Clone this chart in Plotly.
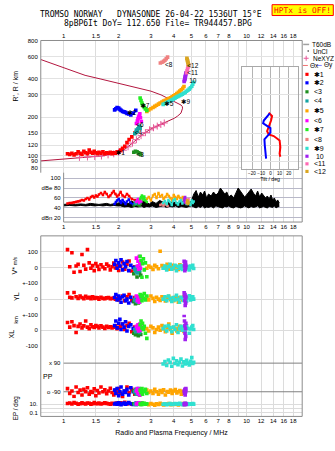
import math
import plotly.graph_objects as go

W, H = 335, 451

# ---------------- data ----------------
freq_ticks = [1, 1.5, 2, 3, 4, 5, 6, 7, 8, 9, 10, 12, 14, 16, 18]
freq_top_text = ["1", "1.5", "2", "3", "4", "5", "6", "7", "8", "", "10", "12", "14", "16", "18"]
freq_mid_text = ["1", "1.5", "2", "3", "4", "5", "6", "7", "8", "9", "10", "12", "14", "16", "18"]
height_ticks = [80, 90, 100, 120, 150, 200, 300, 400, 600, 800]
height_text = ["80", "90", "100", "120", "150", "200", "300", "400", "600", "800"]
db_ticks = [20, 40, 60, 80, 100]
db_text = ["dBn 20", "40", "60", "dBe 80", "100"]
tilt_ticks = [-20, -10, 0, 10, 20]

# electron density profile (plasma frequency vs true height)
prof_f = [0.75, 1.0, 1.22, 1.61, 1.98, 2.2, 2.44, 2.7, 3.01, 3.3, 3.55, 3.86, 4.03, 4.2, 4.38, 4.47,
          4.45, 4.38, 4.2, 4.03, 3.7, 3.41, 3.0, 2.5, 2.0, 1.6, 1.31, 1.0, 0.75]
prof_h = [90.6, 94, 96.5, 99, 105, 114, 129, 146, 162, 172, 180, 190, 196, 204, 215, 235,
          243, 249, 257, 265, 282, 299, 320, 342, 370, 398, 426, 490, 567]
nexyz_f = [1.22, 1.35, 1.48, 1.61, 1.75, 1.88, 2.0, 2.12, 2.25, 2.38, 2.5, 2.65, 2.8, 2.95, 3.1, 3.25, 3.4, 3.55]
nexyz_h = [96.5, 97.3, 98, 99, 101, 103, 106, 110, 117, 125, 133, 143, 151, 159, 165, 170, 175, 180]

# echo 1 (red)
f1 = [1.05, 1.08, 1.11, 1.14, 1.17, 1.20, 1.23, 1.26, 1.29, 1.32, 1.35, 1.38, 1.41, 1.44, 1.47, 1.50, 1.53, 1.56,
      1.60, 1.64, 1.68, 1.72, 1.76, 1.80, 1.84, 1.88, 1.92, 1.96, 2.00, 2.05, 2.10, 2.16, 2.22, 2.28, 2.36, 2.45]
h1 = [103, 102, 104, 101, 103, 107, 104, 102, 108, 105, 103, 110, 106, 104, 108, 105, 103, 106,
      104, 107, 103, 105, 104, 106, 103, 105, 104, 107, 106, 110, 114, 118, 126, 133, 140, 150]
db1 = [49, 50, 50, 51, 52, 53, 54, 56, 55, 58, 60, 57, 62, 64, 61, 65, 63, 67,
       70, 66, 72, 68, 62, 65, 70, 74, 68, 63, 66, 72, 65, 62, 68, 64, 58, 56]
v1 = [114, 5, 94, -30, 10, 20, -25, 83, 15, -10, 114, 30, -5, 12, -20, 25, 8, -12,
      18, 3, -8, 22, 10, -15, 5, 28, -3, 12, -18, 8, 35, -10, 20, 42, -22, 5]
yl1 = [40, 12, 8, 42, 15, 5, 20, 10, 3, 18, 8, 12, 2, 15, 5, 10, 8, 0,
       12, 5, 3, 8, 10, 2, 5, 6, 0, 4, -5, 8, 20, -10, 15, 30, -8, 10]
xl1 = [50, 20, 55, 30, -15, 25, 40, 15, 28, 60, 20, 10, 35, 22, 18, 30, 25, 15,
       28, 20, 12, 25, 18, 22, 15, 20, 28, 10, 18, 25, 40, 5, 30, 45, -10, 20]
pp1 = [-70, -100, -85, -120, -60, -95, -80, -110, -75, -90, -65, -105, -88, -95, -72, -115, -82, -98,
       -60, -90, -78, -102, -85, -68, -95, -110, -80, -92, -70, -100, -125, -85, -60, -95, -75, -105]
ep1 = [15, 20, 12, 25, 18, 10, 14, 22, 16, 12, 20, 18, 11, 14, 25, 16, 13, 19,
       12, 15, 22, 17, 14, 11, 18, 13, 16, 20, 12, 24, 15, 30, 12, 18, 10, 14]

# echo 2 (blue)
f2 = [1.90, 1.93, 1.96, 2.00, 2.03, 2.06, 2.10, 2.14, 2.18, 2.22, 2.27, 2.33, 2.40, 2.48]
h2 = [228, 232, 238, 236, 230, 226, 222, 220, 218, 214, 212, 208, 215, 226]
db2 = [48, 52, 55, 58, 54, 50, 56, 52, 48, 53, 57, 50, 47, 52]
v2 = [20, 45, -5, 30, 10, 50, -15, 25, 5, 38, -20, 15, 0, -8]
yl2 = [10, 30, -5, 20, 5, -20, 15, 25, -10, 0, -25, 12, -15, 5]
xl2 = [30, 60, 15, 45, 70, 5, 40, 20, 55, -5, 25, 35, 10, 15]
pp2 = [-80, -100, -70, -115, -90, -60, -105, -85, -95, -75, -110, -65, -90, -100]
ep2 = [12, 18, 10, 22, 15, 8, 14, 20, 11, 16, 25, 13, 9, 17]

# echo 3 (dark green)
f3 = [2.42, 2.47, 2.52, 2.56, 2.60, 2.64]
h3 = [106, 108, 107, 105, 104, 102]
db3 = [45, 47, 50, 46, 44, 48]
v3 = [-40, -20, -60, -10, -30, -50]
yl3 = [-15, -30, -10, -25, -20, -5]
xl3 = [-20, -30, -25, -35, -15, -28]
pp3 = [-85, -100, -75, -95, -110, -80]
ep3 = [14, 10, 18, 12, 20, 9]

# echo 4 (teal)
f4 = [2.45, 2.48, 2.50, 2.53, 2.55, 2.58, 2.60, 2.62]
h4 = [148, 152, 158, 155, 162, 166, 170, 164]
db4 = [50, 48, 53, 56, 52, 49, 55, 51]
v4 = [-10, -25, 5, -35, -15, 10, -20, -5]
yl4 = [-5, 10, -15, 0, -20, 5, -10, 8]
xl4 = [5, -10, 15, -5, 0, 20, -15, 10]
pp4 = [-90, -75, -105, -80, -95, -70, -100, -85]
ep4 = [10, 14, 8, 18, 12, 16, 11, 20]

# echo 5 (orange)
f5 = [2.85, 2.92, 3.0, 3.08, 3.15, 3.22, 3.3, 3.37, 3.45, 3.52, 3.6, 3.68, 3.76, 3.84, 3.92, 4.0,
      4.08, 4.16, 4.24, 4.32, 4.40, 4.48, 4.55]
h5 = [222, 228, 233, 238, 243, 248, 253, 258, 263, 267, 271, 276, 280, 284, 289, 294,
      300, 306, 313, 320, 328, 337, 348]
db5 = [58, 62, 55, 65, 68, 60, 70, 63, 66, 58, 62, 68, 64, 60, 55, 66, 62, 58, 64, 60, 56, 62, 58]
v5 = [-5, 10, 2, -12, 15, 5, -8, 104, 12, -3, 8, 20, -10, 5, 15, -6, 10, 3, -12, 18, 0, 8, -4]
yl5 = [10, -5, 20, 5, -15, 12, 0, -8, 15, 3, -12, 8, 18, -3, 6, -10, 12, 2, -20, 10, 5, -6, 15]
xl5 = [10, -5, 25, 15, -15, 5, 20, 0, 30, 10, -10, 15, 40, 5, -20, 18, 8, -5, 12, 25, 0, 10, -8]
pp5 = [-80, -95, -85, -100, -75, -90, -105, -82, -95, -78, -110, -88, -92, -80, -100, -85, -76, -98,
       -90, -83, -105, -88, -95]
ep5 = [12, 8, 15, 10, 6, 14, 9, 18, 11, 7, 13, 10, 16, 8, 12, 9, 14, 11, 7, 13, 10, 15, 9]

# echo 6 (magenta)
f6 = [2.50, 2.53, 2.55, 2.57, 2.59, 2.61, 2.63, 2.66]
h6 = [178, 186, 194, 200, 206, 212, 198, 185]
db6 = [52, 56, 58, 54, 50, 55, 57, 53]
v6 = [60, 10, 40, -10, 70, 20, -5, 30]
yl6 = [20, -10, 10, 5, -20, 15, 0, -5]
xl6 = [25, 10, 35, -5, 15, 40, 0, 20]
pp6 = [-85, -70, -100, -90, -75, -110, -95, -80]
ep6 = [12, 16, 20, 14, 10, 18, 13, 22]

# echo 7 (green)
f7 = [2.62, 2.65, 2.68, 2.70, 2.73, 2.76, 2.80, 2.85]
h7 = [283, 270, 258, 250, 245, 238, 232, 226]
db7 = [58, 62, 65, 60, 56, 63, 55, 52]
v7 = [72, 45, -62, 25, 55, -15, 30, -59]
yl7 = [30, 15, -10, 25, 5, 35, -5, 20]
xl7 = [35, 60, 15, 45, 5, 25, -20, -53]
pp7 = [-80, -95, -70, -105, -85, -90, -75, -100]
ep7 = [11, 15, 9, 20, 13, 17, 10, 14]

# echo 8 (salmon)
f8 = [3.38, 3.45, 3.52, 3.58, 3.64, 3.70]
h8 = [532, 540, 548, 560, 575, 592]
db8 = [46, 48, 45, 50, 47, 44]

# echo 9 (turquoise)
f9 = [3.50, 3.58, 3.66, 3.74, 3.82, 3.90, 3.98, 4.06, 4.14, 4.22, 4.30, 4.38, 4.46, 4.54, 4.62, 4.70,
      4.78, 4.86, 4.94, 5.02, 5.08, 5.14]
h9 = [252, 256, 260, 264, 268, 272, 277, 282, 287, 291, 295, 299, 303, 308, 313, 319,
      325, 332, 340, 350, 362, 376]
db9 = [50, 54, 48, 56, 52, 46, 55, 58, 50, 47, 53, 56, 49, 52, 57, 48, 54, 51, 46, 55, 50, 53]
v9 = [-5, 10, -15, 5, 20, -10, 0, 15, -20, 8, -5, 12, -12, 3, 18, -8, 6, -15, 10, 0, 14, -6]
yl9 = [0, 15, -10, 20, 5, -15, 10, -5, 25, 0, -20, 12, 5, -8, 18, -12, 8, 22, -5, 10, 15, 0]
xl9 = [10, 25, -5, 30, 15, -10, 20, 5, 35, -15, 10, 25, 0, 18, -8, 28, 12, -20, 8, 20, 30, 5]
pp9 = [85, 100, 75, 110, 95, 70, 120, 88, 105, 80, 95, 115, 72, 98, 85, 108, 90, 78, 102, 125, 88, 95]
ep9 = [10, 14, 8, 12, 16, 9, 11, 15, 13, 10, 18, 12, 8, 14, 11, 16, 9, 13, 12, 10, 15, 11]

# echo 10 (purple)
f10 = [4.56, 4.58, 4.60, 4.61, 4.62, 4.64, 4.65, 4.66]
h10 = [381, 390, 398, 405, 414, 422, 432, 443]
db10 = [55, 60, 52, 58, 62, 50, 57, 54]
v10 = [40, 10, -20, 25, -10, 35, 0, 15]
yl10 = [40, 20, -10, 30, -40, 5, -25, 15]
xl10 = [95, 60, 30, -20, -60, 10, -40, 45]
pp10 = [-85, -100, -75, -95, -110, -80, -90, -70]
ep10 = [12, 8, 15, 10, 18, 9, 14, 11]

# echo 11 (pink)
f11 = [4.70, 4.73, 4.76, 4.79, 4.82]
h11 = [446, 462, 478, 496, 514]
db11 = [52, 56, 50, 54, 58]

# echo 12 (goldenrod)
f12 = [4.82, 4.80, 4.78, 4.76, 4.74, 4.72]
h12 = [514, 527, 540, 553, 566, 580]
db12 = [50, 54, 48, 52, 56, 50]

echo_names = ["✱1", "✱2", "<3", "<4", "✱5", "<6", "✱7", "<8", "✱9", " 10", "<11", "<12"]
echo_colors = ["#ff0000", "#0000ff", "#1f8f1f", "#14a3a3", "#ffa500", "#ff00ff", "#22ee22",
               "#f08080", "#30e0d0", "#a020f0", "#ff69b4", "#daa520"]
label_text = ["✱1", "✱2", "<3", "<4", "✱5", "<6", "✱7", "<8", "✱9", "10", "<11", "<12"]
label_f = [1.93, 2.23, 2.50, 2.45, 3.55, 2.49, 2.63, 3.58, 4.38, 4.86, 4.74, 4.74]
label_h = [104, 215, 101, 148, 253, 172, 242, 509, 261, 379, 440, 503]

# noise level (dBn) band
noise_f = [1.00, 1.08, 1.16, 1.24, 1.32, 1.40, 1.48, 1.56, 1.64, 1.72, 1.80, 1.88, 1.96,
           2.05, 2.15, 2.25, 2.35, 2.45, 2.55, 2.65, 2.75, 2.85, 2.95, 3.05, 3.2, 3.35, 3.5, 3.65, 3.8,
           3.95, 4.1, 4.25, 4.4, 4.55, 4.7, 4.85,
           5.0, 5.15, 5.3, 5.45, 5.6, 5.75, 5.9, 6.05, 6.2, 6.4, 6.6, 6.8, 7.0, 7.2, 7.4, 7.6, 7.8, 8.0,
           8.25, 8.5, 8.75, 9.0, 9.25, 9.5, 9.75, 10.0, 10.3, 10.6, 10.9, 11.2, 11.5, 11.8, 12.1, 12.4,
           12.7, 13.0, 13.3, 13.6, 13.9, 14.2, 14.5, 14.8, 15.1]
noise_lo = [44, 45, 44, 45, 44, 45, 44, 45, 44, 45, 44, 45, 44,
            44, 42, 43, 41, 43, 42, 44, 41, 43, 42, 44, 41, 42, 44, 41, 43,
            42, 44, 41, 43, 42, 41, 43,
            44, 42, 40, 43, 41, 44, 40, 42, 41, 43, 40, 44, 42, 41, 40, 43, 42, 44,
            41, 40, 43, 42, 40, 41, 44, 42, 40, 43, 41, 42, 44, 40, 42, 43,
            41, 40, 43, 42, 41, 44, 40, 42, 43]
noise_hi = [47, 48, 47, 48, 47, 49, 48, 47, 48, 49, 47, 48, 50,
            50, 52, 48, 54, 50, 47, 52, 55, 50, 48, 53, 49, 55, 51, 48, 54,
            50, 52, 49, 55, 50, 53, 48,
            55, 68, 75, 62, 72, 66, 74, 60, 68, 64, 72, 66, 70, 80, 74, 68, 72, 62,
            66, 60, 70, 80, 74, 68, 62, 66, 72, 78, 70, 64, 74, 62, 70, 66,
            60, 64, 58, 66, 56, 60, 52, 56, 50]

# tilt (Theta x red, Theta y blue)
tiltx_h = [217, 204, 188, 171, 155, 146, 142, 136, 131, 116, 103, 97.6]
tiltx = [-1.8, 1.8, 0.7, -1.8, -3.6, -1.8, 3.6, 7.2, 10, 10.8, 10, 10.8]
tilty_h = [214, 201, 188, 179, 171, 164, 151, 142, 134, 120, 106, 94.5]
tilty = [-0.7, -4.3, -7.2, -7.9, -3.6, 0, 0, -3.6, -6.5, -6.1, -5.4, -4.7]

# ---------------- layout geometry (pixels -> paper) ----------------
def PX(p):
    return p / W


def PY(p):
    return 1 - p / H


F1_PX, DEC_PX = 62.0, 184.0
LF0 = (39 - F1_PX) / DEC_PX
LF1 = (302 - F1_PX) / DEC_PX
F_RIGHT = 10 ** LF1
HT_TOP_PX, HT_DEC_PX = 38.0, 129.0
LH_TOP = math.log10(800)


def lh_at(py):
    return LH_TOP - (py - HT_TOP_PX) / HT_DEC_PX


TICKF = dict(family="Liberation Sans", size=6, color="black")
GRID = "#dcdcdc"

echoes = [
    (f1, h1, db1, v1, yl1, xl1, pp1, ep1),
    (f2, h2, db2, v2, yl2, xl2, pp2, ep2),
    (f3, h3, db3, v3, yl3, xl3, pp3, ep3),
    (f4, h4, db4, v4, yl4, xl4, pp4, ep4),
    (f5, h5, db5, v5, yl5, xl5, pp5, ep5),
    (f6, h6, db6, v6, yl6, xl6, pp6, ep6),
    (f7, h7, db7, v7, yl7, xl7, pp7, ep7),
    (f8, h8, db8, None, None, None, None, None),
    (f9, h9, db9, v9, yl9, xl9, pp9, ep9),
    (f10, h10, db10, v10, yl10, xl10, pp10, ep10),
    (f11, h11, db11, None, None, None, None, None),
    (f12, h12, db12, None, None, None, None, None),
]

fig = go.Figure()

# reference lines of the PP track
for val in (90, -90):
    fig.add_trace(go.Scatter(x=[1, F_RIGHT], y=[val, val], mode="lines", xaxis="x3", yaxis="y4",
                             line=dict(color="#808080", width=1)))

# noise band in dB panel
fig.add_trace(go.Scatter(x=noise_f, y=noise_lo, mode="lines", xaxis="x2", yaxis="y2",
                         line=dict(color="black", width=1)))
fig.add_trace(go.Scatter(x=noise_f, y=noise_hi, mode="lines", xaxis="x2", yaxis="y2",
                         line=dict(color="black", width=1), fill="tonexty", fillcolor="black"))

# profile
fig.add_trace(go.Scatter(x=prof_f, y=prof_h, mode="lines", xaxis="x", yaxis="y",
                         line=dict(color="#b3163f", width=1)))
fig.add_trace(go.Scatter(x=nexyz_f, y=nexyz_h, mode="markers", xaxis="x", yaxis="y",
                         marker=dict(symbol="cross-thin-open", size=5, color="#e8589a",
                                     line=dict(color="#e8589a", width=1))))

MS = 3.6
for (fe, he, dbe, ve, yle, xle, ppe, epe), col in zip(echoes, echo_colors):
    mk = dict(symbol="square", size=MS, color=col, line=dict(width=0))
    fig.add_trace(go.Scatter(x=fe, y=he, mode="markers", xaxis="x", yaxis="y", marker=mk))
    fig.add_trace(go.Scatter(x=fe, y=dbe, mode="lines+markers", xaxis="x2", yaxis="y2",
                             marker=dict(symbol="square", size=2.5, color=col), line=dict(color=col, width=1.5)))
    if ve is not None:
        for vals, ya in ((ve, "y7"), (yle, "y6"), (xle, "y5"), (ppe, "y4"), (epe, "y3")):
            fig.add_trace(go.Scatter(x=fe, y=vals, mode="markers", xaxis="x3", yaxis=ya, marker=mk))

fig.add_trace(go.Scatter(x=label_f, y=label_h, text=label_text, mode="text", xaxis="x", yaxis="y",
                         textposition="middle right",
                         textfont=dict(family="Liberation Sans, DejaVu Sans", size=6.5, color="black")))

# tilt inset
fig.add_trace(go.Scatter(x=tiltx, y=tiltx_h, mode="lines", xaxis="x4", yaxis="y8",
                         line=dict(color="#ff0000", width=2)))
fig.add_trace(go.Scatter(x=tilty, y=tilty_h, mode="lines", xaxis="x4", yaxis="y8",
                         line=dict(color="#0000ff", width=2)))

fig.update_traces(showlegend=False, hoverinfo="skip")

# ---- axes ----
xbase = dict(type="log", range=[LF0, LF1], tickvals=freq_ticks, showgrid=True, gridcolor=GRID,
             gridwidth=1, zeroline=False, ticks="", tickfont=TICKF, showline=False, fixedrange=True,
             tickangle=0)

V_S = 0.16  # px per m/s
v_rng = [-100 - 0.3 / V_S, (268.3 - 236) / V_S]
PP_S = 29 / 180.0
pp_rng = [-90 - (400.5 - 394) / PP_S, 90 + (365 - 347.3) / PP_S]
EP_S = 4.15
ep_rng = [-1 - (419 - 415) / EP_S, 1 + (406.7 - 400.5) / EP_S]

ybase = dict(zeroline=False, ticks="", tickfont=TICKF, showline=False, fixedrange=True,
             gridcolor=GRID, ticklabelstandoff=2)

fig.update_layout(
    width=W, height=H, margin=dict(l=0, r=0, t=0, b=0),
    paper_bgcolor="white", plot_bgcolor="white",
    font=dict(family="Liberation Sans", size=7, color="black"),
    xaxis=dict(xbase, domain=[PX(39), PX(302)], anchor="y", side="top", ticktext=freq_top_text),
    yaxis=dict(ybase, domain=[PY(172), PY(38)], anchor="x", type="log",
               range=[lh_at(172), LH_TOP], tickvals=height_ticks, ticktext=height_text,
               showgrid=True, gridcolor="#e2e2e2"),
    xaxis2=dict(xbase, domain=[PX(62), PX(302)], anchor="y2", range=[0, LF1], ticktext=freq_mid_text),
    yaxis2=dict(ybase, domain=[PY(222), PY(172)], anchor="x2",
                range=[20 - (222 - 217.7) / 0.5025, 100 + (177.5 - 172) / 0.5025],
                tickvals=db_ticks, ticktext=db_text, showgrid=True, gridcolor="#b8b8c8"),
    xaxis3=dict(xbase, domain=[PX(39), PX(302)], anchor="y3", ticktext=freq_top_text,
                title=dict(text="Radio and Plasma Frequency / MHz", standoff=6,
                           font=dict(family="Liberation Sans", size=7))),
    yaxis3=dict(ybase, domain=[PY(419), PY(400.5)], anchor="x3", type="log", range=ep_rng,
                tickvals=[0.1, 1, 10], ticktext=["0.1", "", "10."], showgrid=True),
    yaxis4=dict(ybase, domain=[PY(400.5), PY(347.3)], anchor="x3", range=pp_rng,
                showgrid=False, showticklabels=False),
    yaxis5=dict(ybase, domain=[PY(347.3), PY(316)], anchor="x3", range=[-100.6, 100],
                tickvals=[-100, 0], ticktext=["-100", "0"], showgrid=True),
    yaxis6=dict(ybase, domain=[PY(316), PY(284.3)], anchor="x3", range=[-100.6, 100],
                tickvals=[-100, 0], ticktext=["+-100", "0"], showgrid=True),
    yaxis7=dict(ybase, domain=[PY(284.3), PY(236)], anchor="x3", range=v_rng,
                tickvals=[-100, 0, 100], ticktext=["+-100", "0", "100"], showgrid=True),
    xaxis4=dict(domain=[PX(241.7), PX(297.7)], anchor="y8", range=[-30.6, 29.9], tickvals=tilt_ticks,
                showgrid=True, gridcolor="#b4b4b4", zeroline=False, ticks="", fixedrange=True,
                tickangle=0, ticklabelstandoff=0,
                tickfont=dict(family="Liberation Sans", size=4.6, color="black"),
                showline=True, mirror=True, linecolor="#a8a8a8", linewidth=1,
                title=dict(text="Tilt / deg", standoff=1, font=dict(family="Liberation Sans", size=5.2))),
    yaxis8=dict(domain=[PY(168), PY(65)], anchor="x4", type="log", range=[lh_at(168), lh_at(65)],
                tickvals=height_ticks, showticklabels=False, showgrid=True, gridcolor="#e2e2e2",
                zeroline=False, ticks="", fixedrange=True, showline=True, mirror=True,
                linecolor="#a8a8a8", linewidth=1),
)

FRAME = "#8c8c8c"
shapes = []


def hline(x0, x1, y, color=FRAME, w=1):
    shapes.append(dict(type="line", xref="paper", yref="paper", x0=PX(x0), x1=PX(x1), y0=PY(y), y1=PY(y),
                       line=dict(color=color, width=w), layer="above"))


def vline(x, y0, y1, color=FRAME, w=1):
    shapes.append(dict(type="line", xref="paper", yref="paper", x0=PX(x), x1=PX(x), y0=PY(y0), y1=PY(y1),
                       line=dict(color=color, width=w), layer="above"))


hline(39, 302, 38)
vline(39, 38, 172)
vline(302, 38, 222)
vline(62, 172, 222)
hline(62, 302, 222)
shapes.append(dict(type="rect", xref="paper", yref="paper", x0=PX(39), x1=PX(302), y0=PY(419), y1=PY(236),
                   line=dict(color=FRAME, width=1), layer="above"))
# HPTx box
shapes.append(dict(type="rect", xref="paper", yref="paper", x0=PX(271.7), x1=PX(333.3), y0=PY(12.7), y1=PY(1.7),
                   fillcolor="#ffff00", line=dict(color="#ff0000", width=1), layer="above"))

# legend symbols
hline(303, 309, 42, color="#a0a0a0", w=1.5)
shapes.append(dict(type="circle", xref="paper", yref="paper", x0=PX(307.3), x1=PX(308.7), y0=PY(49.4),
                   y1=PY(48.0), fillcolor="black", line=dict(width=0)))
hline(303.5, 308.5, 56, color="#e8589a")
vline(306, 53.5, 58.5, color="#e8589a")
hline(302.7, 307.7, 63.3, color="#f07070")
hline(316.7, 321.7, 63.3, color="#8080ff")
leg_y = [72.3, 80.9, 90, 99.3, 109.3, 119.3, 128.3, 138.3, 147.3, 155.3, 163, 170.7]
for yy, col in zip(leg_y, echo_colors):
    shapes.append(dict(type="rect", xref="paper", yref="paper", x0=PX(305.2), x1=PX(308.4), y0=PY(yy + 1.6),
                       y1=PY(yy - 1.6), fillcolor=col, line=dict(width=0)))

ann = []


def text(x, y, s, size=7, anchor="center", angle=0, color="black", family="Liberation Sans, DejaVu Sans"):
    ann.append(dict(x=PX(x), y=PY(y), xref="paper", yref="paper", text=s, showarrow=False,
                    xanchor=anchor, yanchor="middle", textangle=angle,
                    font=dict(family=family, size=size, color=color)))


MONO = "DejaVu Sans Mono"
text(149.7, 11.4, "TROMSO NORWAY   DYNASONDE 26-04-22 1536UT 15°E", size=8, family=MONO)
text(157, 20.9, "8pBP6It DoY= 112.650 File= TR944457.BPG", size=8, family=MONO)
text(302.5, 7.4, "HPTx is OFF!", size=7.9, family=MONO, color="#ff0000")

text(13.7, 84, "R', R / km", size=7, angle=-90)
text(13, 266, "V* <span style='font-size:5px'>m/s</span>", size=7, angle=-90)
text(14, 297, "YL", size=7, angle=-90)
text(14.3, 320.5, "km", size=5.5, angle=-90)
text(10, 335, "XL", size=7, angle=-90)
text(13.7, 410, "EP / deg", size=6.3, angle=-90)
text(46.7, 379, "PP", size=7)
text(61, 365, "x 90", size=6, anchor="right")
text(61, 394, "o -90", size=6, anchor="right")

text(310, 41.8, "T60dB", size=6.5, anchor="left")
text(311, 48.8, "UnCl", size=6.5, anchor="left")
text(310.5, 55.9, "NeXYZ", size=6.5, anchor="left")
text(307.7, 63.3, "Θx", size=6.5, anchor="left")
text(321.7, 63.3, "Θy", size=6.5, anchor="left")
for yy, nm in zip(leg_y, echo_names):
    text(311.5, yy, nm, size=7, anchor="left")

fig.update_layout(shapes=shapes, annotations=ann)
fig.write_html("out.html")
